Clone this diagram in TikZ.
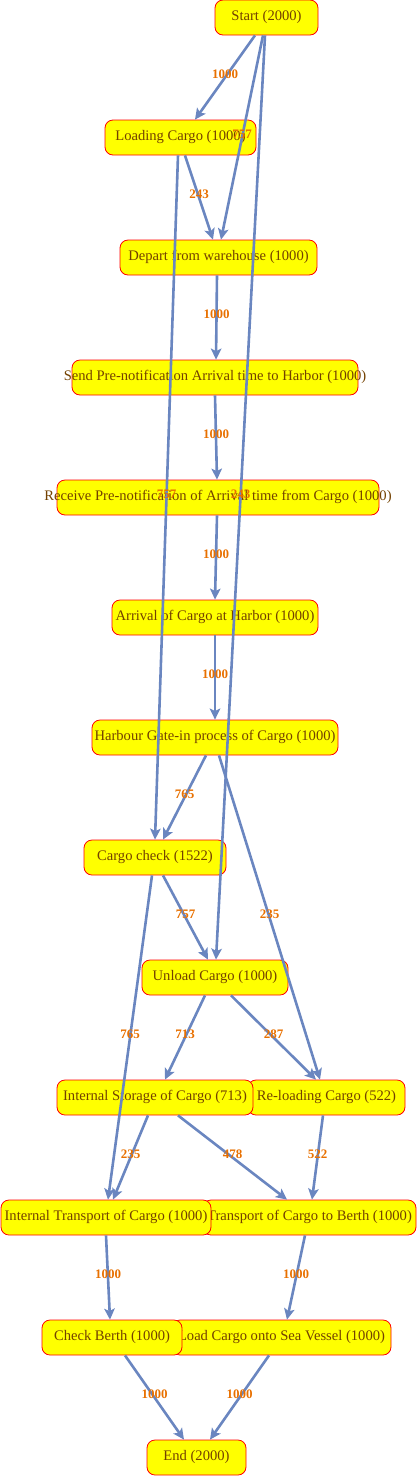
\documentclass[tikz,border=0pt]{standalone}
\usepackage{fontspec}
\setmainfont{Liberation Serif}
\usetikzlibrary{arrows.meta}
\definecolor{ntext}{RGB}{115,65,0}
\definecolor{edgec}{RGB}{106,134,192}
\definecolor{lblc}{RGB}{232,112,0}
\definecolor{boxfill}{RGB}{255,255,0}
\tikzset{
  procbox/.style={draw=red, fill=boxfill, line width=0.8pt, rounded corners=8pt,
    minimum height=35pt, inner xsep=0pt, inner ysep=0pt, text=ntext,
    font=\fontsize{14.6}{16}\selectfont},
  flow/.style={draw=edgec, line width=2.6pt,
    -{Stealth[length=11pt,width=10.5pt,inset=2.5pt]}},
  lbl/.style={text=lblc, font=\fontsize{13}{15}\selectfont\bfseries, inner sep=0pt, yshift=3pt}
}
\newcommand{\bx}[2]{\raisebox{3.5pt}{\makebox[#1pt][c]{#2}}}
\begin{document}
\begin{tikzpicture}[x=1pt,y=-1pt]
\useasboundingbox (0,0) rectangle (417,1476);
% nodes
\node[procbox] (start) at (266.5,17.5) {\bx{103}{Start (2000)}};
\node[procbox] (load) at (180.5,137.5) {\bx{151}{Loading Cargo (1000)}};
\node[procbox] (depart) at (218.5,257.5) {\bx{197}{Depart from warehouse (1000)}};
\node[procbox] (send) at (215,377.5) {\bx{286}{Send Pre-notification Arrival time to Harbor (1000)}};
\node[procbox] (recv) at (218,497.5) {\bx{322}{Receive Pre-notification of Arrival time from Cargo (1000)}};
\node[procbox] (arrival) at (215,617.5) {\bx{206}{Arrival of Cargo at Harbor (1000)}};
\node[procbox] (gate) at (215,737.5) {\bx{246}{Harbour Gate-in process of Cargo (1000)}};
\node[procbox] (check) at (155,857.5) {\bx{142}{Cargo check (1522)}};
\node[procbox] (unload) at (215,977.5) {\bx{146}{Unload Cargo (1000)}};
\node[procbox] (reload) at (326.5,1097.5) {\bx{157}{Re-loading Cargo (522)}};
\node[procbox] (storage) at (155,1097.5) {\bx{196}{Internal Storage of Cargo (713)}};
\node[procbox] (berth) at (309.5,1217.5) {\bx{213}{Transport of Cargo to Berth (1000)}};
\node[procbox] (itrans) at (106,1217.5) {\bx{210}{Internal Transport of Cargo (1000)}};
\node[procbox] (loadv) at (281.5,1337.5) {\bx{219}{Load Cargo onto Sea Vessel (1000)}};
\node[procbox] (checkb) at (112,1337.5) {\bx{140}{Check Berth (1000)}};
\node[procbox] (end) at (196.5,1457.5) {\bx{99}{End (2000)}};
% edges
\draw[flow] ([xshift=-11.5pt]start.south) -- node[lbl]{1000} ([xshift=14.5pt]load.north);
\draw[flow] ([xshift=-3.5pt]start.south) -- node[lbl]{757} ([xshift=2.5pt]depart.north);
\draw[flow] ([xshift=-1.5pt]start.south) -- node[lbl]{243} ([xshift=1pt]unload.north);
\draw[flow] ([xshift=4.5pt]load.south) -- node[lbl]{243} ([xshift=-5.5pt]depart.north);
\draw[flow] ([xshift=-2.5pt]load.south) -- node[lbl]{757} ([xshift=0pt]check.north);
\draw[flow] ([xshift=-1.5pt]depart.south) -- node[lbl]{1000} ([xshift=1pt]send.north);
\draw[flow] ([xshift=0pt]send.south) -- node[lbl]{1000} ([xshift=-1pt]recv.north);
\draw[flow] ([xshift=-1pt]recv.south) -- node[lbl]{1000} ([xshift=0pt]arrival.north);
\draw[flow] (arrival.south) -- node[lbl]{1000} (gate.north);
\draw[flow] ([xshift=-9pt]gate.south) -- node[lbl]{765} ([xshift=8pt]check.north);
\draw[flow] ([xshift=4pt]gate.south) -- node[lbl]{235} ([xshift=-6.5pt]reload.north);
\draw[flow] ([xshift=8pt]check.south) -- node[lbl]{757} ([xshift=-7pt]unload.north);
\draw[flow] ([xshift=-3pt]check.south) -- node[lbl]{765} ([xshift=2pt]itrans.north);
\draw[flow] ([xshift=-10pt]unload.south) -- node[lbl]{713} ([xshift=10pt]storage.north);
\draw[flow] ([xshift=16pt]unload.south) -- node[lbl]{287} ([xshift=-10.5pt]reload.north);
\draw[flow] ([xshift=-7pt]storage.south) -- node[lbl]{235} ([xshift=7pt]itrans.north);
\draw[flow] ([xshift=23pt]storage.south) -- node[lbl]{478} ([xshift=-22.5pt]berth.north);
\draw[flow] ([xshift=-3.5pt]reload.south) -- node[lbl]{522} ([xshift=2.5pt]berth.north);
\draw[flow] ([xshift=0pt]itrans.south) -- node[lbl]{1000} ([xshift=-2pt]checkb.north);
\draw[flow] ([xshift=-4.5pt]berth.south) -- node[lbl]{1000} ([xshift=5.5pt]loadv.north);
\draw[flow] ([xshift=13pt]checkb.south) -- node[lbl]{1000} ([xshift=-12.5pt]end.north);
\draw[flow] ([xshift=-12.5pt]loadv.south) -- node[lbl]{1000} ([xshift=13.5pt]end.north);
\end{tikzpicture}
\end{document}
